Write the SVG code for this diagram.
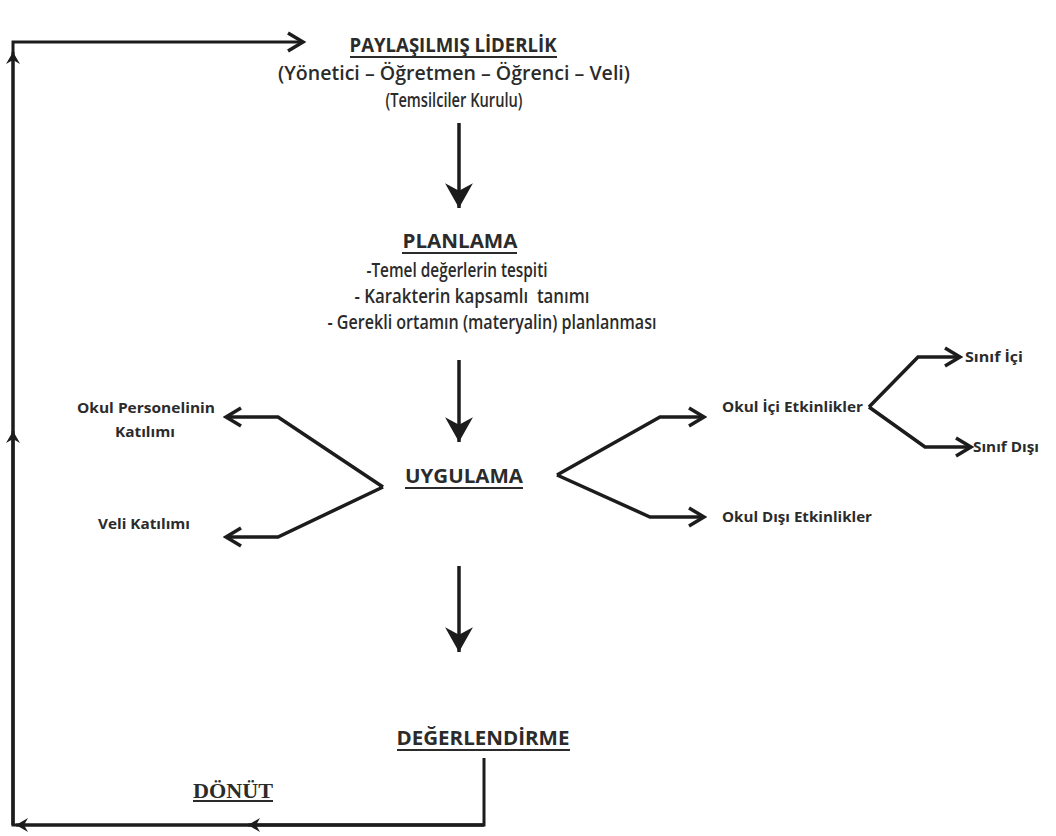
<svg xmlns="http://www.w3.org/2000/svg" width="1056" height="836" viewBox="0 0 1056 836">
<style>
.t{font-family:"Open Sans","Noto Sans","Liberation Sans",sans-serif;font-weight:600;fill:#2b2b2b}
.h{font-size:20px;font-weight:700}
.m{font-size:19px}
.s{font-size:15px;font-weight:700}
.u{stroke:#2b2b2b;stroke-width:2}
.c{fill:none;stroke:#1c1c1c;stroke-width:3.5;stroke-linejoin:miter}
.b{fill:none;stroke:#1c1c1c;stroke-width:3}
.ds{font-family:"Liberation Serif","Times New Roman",serif;font-weight:700;font-size:21px;fill:#2b2b2b}
</style>
<defs>
<marker id="big" markerUnits="userSpaceOnUse" markerWidth="30" markerHeight="30" viewBox="-26 -14 28 28" refX="0" refY="0" orient="auto">
<path d="M0,0 L-23,-13 L-16,0 L-23,13 Z" fill="#1c1c1c"/>
</marker>
<marker id="chev" markerUnits="userSpaceOnUse" markerWidth="24" markerHeight="24" viewBox="-20 -12 22 24" refX="0" refY="0" orient="auto">
<path d="M-15,-9 L0,0 L-15,9" fill="none" stroke="#1c1c1c" stroke-width="3.5"/>
</marker>
<marker id="sm" markerUnits="userSpaceOnUse" markerWidth="20" markerHeight="20" viewBox="-14 -10 16 20" refX="0" refY="0" orient="auto">
<path d="M0,0 L-12,-7 L-8,0 L-12,7 Z" fill="#1c1c1c"/>
</marker>
</defs>
<rect width="1056" height="836" fill="#fff"/>

<g id="connectors">
<polyline class="b" points="484,758 484,825 13,825 13,42 303,42" marker-end="url(#chev)"/>
<line class="b" x1="484" y1="825" x2="248" y2="825" marker-end="url(#sm)"/>
<line class="b" x1="484" y1="825" x2="16" y2="825" marker-end="url(#sm)"/>
<line class="b" x1="13" y1="825" x2="13" y2="431" marker-end="url(#sm)"/>
<line class="b" x1="13" y1="825" x2="13" y2="52" marker-end="url(#sm)"/>
<line class="c" x1="459" y1="123" x2="459" y2="208" marker-end="url(#big)"/>
<line class="c" x1="459" y1="360" x2="459" y2="442" marker-end="url(#big)"/>
<line class="c" x1="459" y1="566" x2="459" y2="652" marker-end="url(#big)"/>
<polyline class="c" points="383,487 278,417 226,417" marker-end="url(#chev)"/>
<polyline class="c" points="383,487 278,537 226,537" marker-end="url(#chev)"/>
<polyline class="c" points="557,475 660,417 704,417" marker-end="url(#chev)"/>
<polyline class="c" points="557,475 650,517 704,517" marker-end="url(#chev)"/>
<polyline class="c" points="869,407 918,357 960,357" marker-end="url(#chev)"/>
<polyline class="c" points="869,407 925,447 971,447" marker-end="url(#chev)"/>
</g>

<g id="paylasilmis">
<text class="t h" x="453" y="52" text-anchor="middle" textLength="207" lengthAdjust="spacingAndGlyphs">PAYLAŞILMIŞ LİDERLİK</text>
<line class="u" x1="350" y1="57" x2="557" y2="57"/>
<text class="t m" x="454" y="80" text-anchor="middle" textLength="352" lengthAdjust="spacingAndGlyphs">(Yönetici – Öğretmen – Öğrenci – Veli)</text>
<text class="t m" x="454" y="107" text-anchor="middle" textLength="137" lengthAdjust="spacingAndGlyphs">(Temsilciler Kurulu)</text>
</g>

<g id="planlama">
<text class="t h" x="460" y="248" text-anchor="middle" textLength="115" lengthAdjust="spacingAndGlyphs">PLANLAMA</text>
<line class="u" x1="402" y1="253" x2="517" y2="253"/>
<text class="t m" x="457" y="277" text-anchor="middle" textLength="181" lengthAdjust="spacingAndGlyphs">-Temel değerlerin tespiti</text>
<text class="t m" x="472" y="303" text-anchor="middle" textLength="235" lengthAdjust="spacingAndGlyphs" xml:space="preserve">- Karakterin kapsamlı  tanımı</text>
<text class="t m" x="492" y="329" text-anchor="middle" textLength="329" lengthAdjust="spacingAndGlyphs">- Gerekli ortamın (materyalin) planlanması</text>
</g>

<g id="uygulama">
<text class="t h" x="464" y="483" text-anchor="middle" textLength="118" lengthAdjust="spacingAndGlyphs">UYGULAMA</text>
<line class="u" x1="405" y1="488" x2="523" y2="488"/>
</g>

<g id="okul-personeli">
<text class="t s" x="146" y="413" text-anchor="middle" textLength="138" lengthAdjust="spacingAndGlyphs">Okul Personelinin</text>
<text class="t s" x="145" y="437" text-anchor="middle" textLength="60" lengthAdjust="spacingAndGlyphs">Katılımı</text>
</g>

<g id="veli-katilimi">
<text class="t s" x="144" y="529" text-anchor="middle" textLength="92" lengthAdjust="spacingAndGlyphs">Veli Katılımı</text>
</g>

<g id="okul-ici">
<text class="t s" x="722" y="412" textLength="141" lengthAdjust="spacingAndGlyphs">Okul İçi Etkinlikler</text>
</g>

<g id="okul-disi">
<text class="t s" x="722" y="522" textLength="150" lengthAdjust="spacingAndGlyphs">Okul Dışı Etkinlikler</text>
</g>

<g id="sinif-ici">
<text class="t s" x="965" y="362" textLength="58" lengthAdjust="spacingAndGlyphs">Sınıf İçi</text>
</g>

<g id="sinif-disi">
<text class="t s" x="973" y="452" textLength="66" lengthAdjust="spacingAndGlyphs">Sınıf Dışı</text>
</g>

<g id="degerlendirme">
<text class="t h" x="483" y="745" text-anchor="middle" textLength="173" lengthAdjust="spacingAndGlyphs">DEĞERLENDİRME</text>
<line class="u" x1="397" y1="750" x2="570" y2="750"/>
</g>

<g id="donut">
<text class="ds" x="233" y="798" text-anchor="middle" textLength="80" lengthAdjust="spacingAndGlyphs">DÖNÜT</text>
<line class="u" x1="193" y1="801" x2="273" y2="801"/>
</g>
</svg>
